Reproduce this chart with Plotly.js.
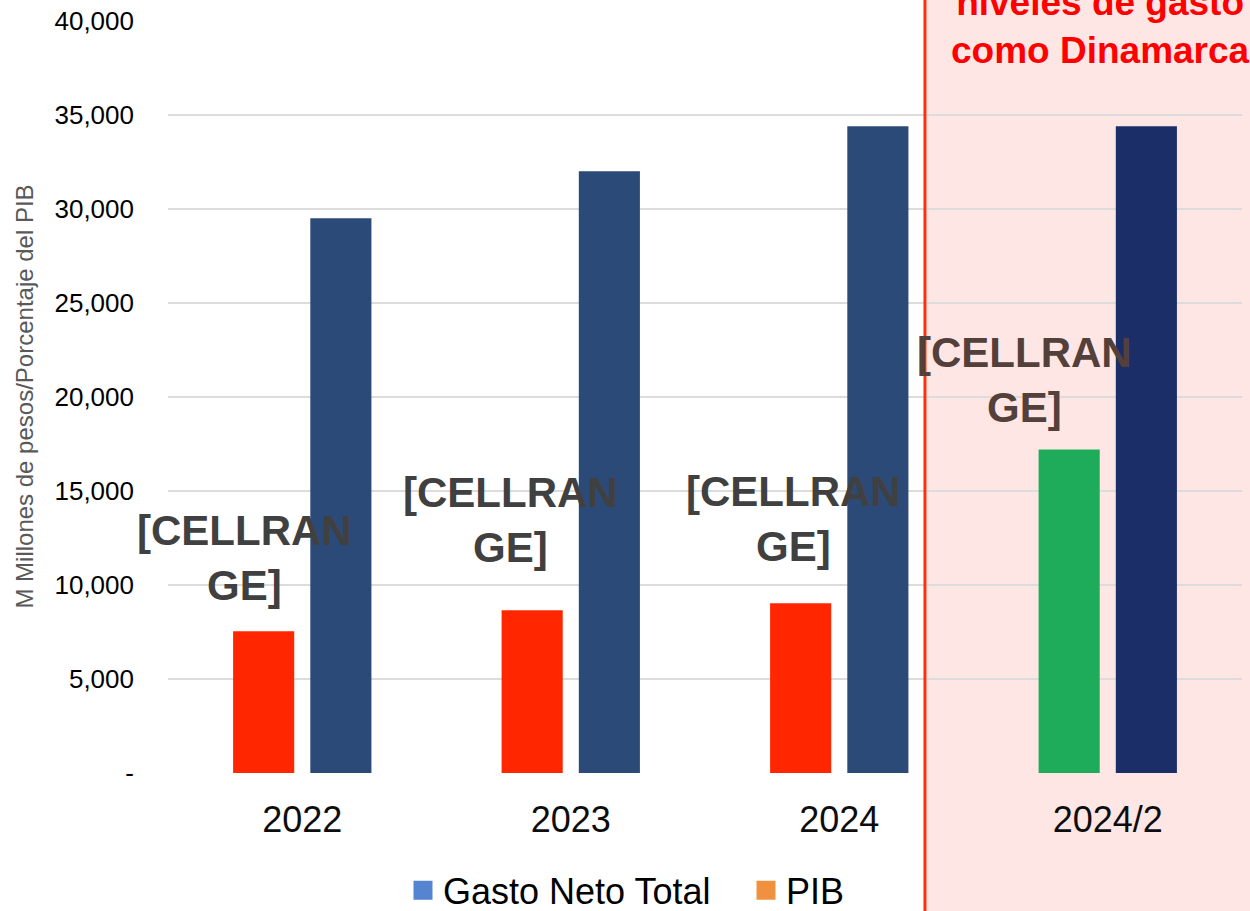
<!DOCTYPE html>
<html>
<head>
<meta charset="utf-8">
<script src="https://cdn.plot.ly/plotly-3.0.1.min.js"></script>
<style>
  html, body { margin: 0; padding: 0; background: #ffffff; }
  #chart { width: 1250px; height: 911px; }
</style>
</head>
<body>
<div id="chart"></div>
<script>
// ---- Data ----
const categories = ["2022", "2023", "2024", "2024/2"];
const pibValues = [7540, 8660, 9030, 17200];
const gastoValues = [29500, 32000, 34400, 34400];
const pibColors = ["#ff2600", "#ff2600", "#ff2600", "#1eab5a"];
const gastoColors = ["#2c4a77", "#2c4a77", "#2c4a77", "#1b2e68"];
const labelText = "[CELLRAN<br>GE]";
const yTickVals = [0, 5000, 10000, 15000, 20000, 25000, 30000, 35000, 40000];
const yTickText = ["-", "5,000", "10,000", "15,000", "20,000", "25,000", "30,000", "35,000", "40,000"];
const seriesNames = ["Gasto Neto Total", "PIB"];
const legendColors = ["#5585d0", "#f0913f"];
const noteText = "niveles de gasto<br>como Dinamarca";

// ---- Traces ----
const barWidth = 0.2276;
const traces = [
  {
    type: "bar", x: categories, y: pibValues, name: "PIB", showlegend: false,
    marker: { color: pibColors }, width: barWidth, offset: -0.2575,
    hoverinfo: "x+y"
  },
  {
    type: "bar", x: categories, y: gastoValues, name: "Gasto Neto Total", showlegend: false,
    marker: { color: gastoColors }, width: barWidth, offset: 0.03,
    hoverinfo: "x+y"
  },
  {
    type: "scatter", mode: "markers", x: [null], y: [null], name: seriesNames[0],
    marker: { symbol: "square", size: 19, color: legendColors[0] }, showlegend: true
  },
  {
    type: "scatter", mode: "markers", x: [null], y: [null], name: seriesNames[1],
    marker: { symbol: "square", size: 19, color: legendColors[1] }, showlegend: true
  }
];

// label placement (category index offsets / y positions for the text blocks)
const labelPos = [
  { x: -0.216, y: 11420, color: "#404040" },
  { x: 0.776, y: 13440, color: "#404040" },
  { x: 1.828, y: 13490, color: "#404040" },
  { x: 2.69, y: 20880, color: "#54403a" }
];

const annotations = labelPos.map(p => ({
  xref: "x", yref: "y", x: p.x, y: p.y, text: labelText, showarrow: false,
  xanchor: "center", yanchor: "middle", align: "center",
  font: { family: "Liberation Sans, Arial, sans-serif", size: 42, color: p.color, weight: "bold" }
}));

annotations.push({
  xref: "paper", yref: "paper", x: 0.8678, y: 0.9914, text: noteText, showarrow: false,
  xanchor: "center", yanchor: "middle", align: "center",
  font: { family: "Liberation Sans, Arial, sans-serif", size: 37, color: "#ff0000", weight: "bold" }
});

const layout = {
  width: 1250, height: 911,
  margin: { l: 168, r: 8, t: 20, b: 138, autoexpand: false },
  paper_bgcolor: "#ffffff",
  plot_bgcolor: "rgba(0,0,0,0)",
  barmode: "overlay",
  showlegend: true,
  legend: {
    orientation: "h", x: 0.2188, xanchor: "left", y: -0.156, yanchor: "middle",
    font: { family: "Liberation Sans, Arial, sans-serif", size: 36, color: "#000000" },
    entrywidth: 298, entrywidthmode: "pixels",
    bgcolor: "rgba(0,0,0,0)"
  },
  xaxis: {
    type: "category",
    range: [-0.5, 3.5],
    showgrid: false, zeroline: false, showline: false,
    ticks: "", ticklabelstandoff: 22,
    tickfont: { family: "Liberation Sans, Arial, sans-serif", size: 36, color: "#0d0d0d" },
    fixedrange: true, automargin: false
  },
  yaxis: {
    range: [0, 40050],
    tickvals: yTickVals, ticktext: yTickText,
    showgrid: true, gridcolor: "#dcdcdc", gridwidth: 2,
    zeroline: false, showline: false, ticks: "",
    ticklabelstandoff: 33,
    tickfont: { family: "Liberation Sans, Arial, sans-serif", size: 26, color: "#000000" },
    title: {
      text: "M Millones de pesos/Porcentaje del PIB",
      font: { family: "Liberation Sans, Arial, sans-serif", size: 24, color: "#595959" },
      standoff: 14
    },
    fixedrange: true, automargin: false
  },
  shapes: [
    {
      type: "rect", xref: "paper", yref: "paper",
      x0: 0.7048, x1: 1.02, y0: -0.25, y1: 1.1,
      fillcolor: "#fee6e5", line: { width: 0 }, layer: "below"
    },
    {
      type: "line", xref: "paper", yref: "paper",
      x0: 0.7048, x1: 0.7048, y0: -0.25, y1: 1.1,
      line: { color: "#ff3010", width: 3 }, layer: "above"
    }
  ],
  annotations: annotations
};

Plotly.newPlot("chart", traces, layout, { displayModeBar: false, staticPlot: true }).then(() => {
  // enlarge legend swatches to match reference size
  document.querySelectorAll(".legend .legendpoints path").forEach(p => {
    p.setAttribute("d", "M9.5,9.5H-9.5V-9.5H9.5Z");
  });
});
</script>
</body>
</html>
